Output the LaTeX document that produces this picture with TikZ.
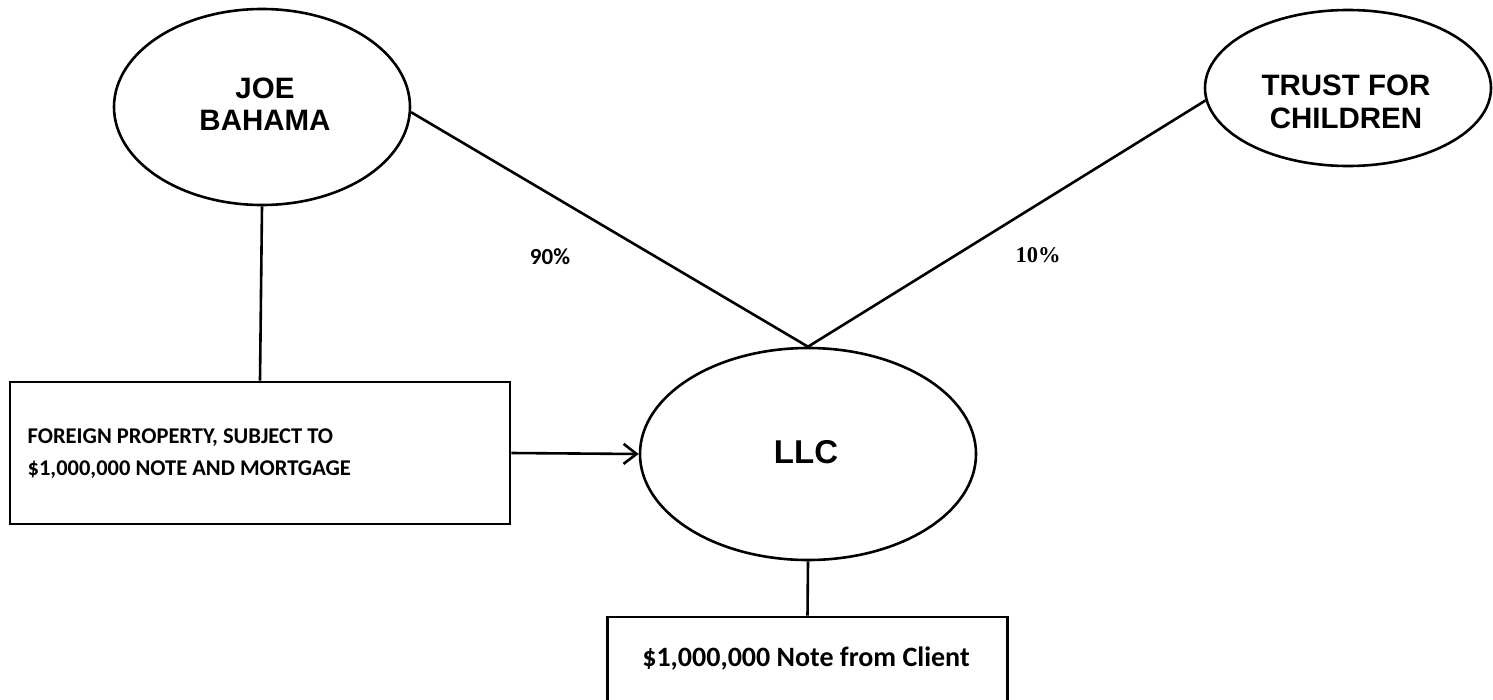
\documentclass[tikz,border=0pt]{standalone}
\usepackage{fontspec}
\setmainfont{Liberation Sans}
\newfontfamily\calib{Carlito}
\newfontfamily\serifpct{Liberation Serif}
\usetikzlibrary{shapes.geometric,arrows.meta}
\begin{document}
\begin{tikzpicture}[x=1pt,y=-1pt,
  every path/.style={line width=2.6pt},
  owner/.style={draw,ellipse,line width=2.6pt,inner sep=0pt},
  ownertext/.style={font=\fontsize{29.5}{32.5}\selectfont\bfseries,align=center},
  box/.style={draw,rectangle,line width=2.6pt,inner sep=0pt},
  boxtext/.style={font=\calib\fontsize{22.5}{32}\selectfont\bfseries,align=left},
  pct/.style={font=\calib\fontsize{23}{25}\selectfont\bfseries}]
\useasboundingbox (0,0) rectangle (1493,699);
% entities
\node[owner,minimum width=296pt,minimum height=196pt] (joe) at (262,107) {};
\node[ownertext] at (265,104) {JOE\\BAHAMA};
\node[owner,minimum width=286pt,minimum height=156pt] (trust) at (1348,88) {};
\node[ownertext] at (1346,102) {TRUST FOR\\CHILDREN};
\node[owner,minimum width=336pt,minimum height=212pt] (llc) at (808,454) {};
\node[font=\fontsize{33}{35}\selectfont\bfseries] at (806,452) {LLC};
% boxes
\node[box,minimum width=500pt,minimum height=142pt] (prop) at (260,453) {};
\node[boxtext,anchor=west] at (23,454) {FOREIGN PROPERTY, SUBJECT TO\\\$1,000,000 NOTE AND MORTGAGE};
\node[box,minimum width=400pt,minimum height=90pt] (note) at (807.5,662) {};
\node[font=\calib\fontsize{28}{30}\selectfont\bfseries] at (806,659) {\$1,000,000 Note from Client};
% percentages
\node[pct] (p90) at (550,257) {90\%};
\node[font=\serifpct\fontsize{22.5}{24}\selectfont\bfseries] (p10) at (1038,255) {10\%};
% connectors
\draw (joe.south) -- (prop.north);
\draw (joe.-2) -- (llc.north);
\draw (trust.185) -- (llc.north);
\draw[-{Straight Barb[length=13pt,width=20pt,line width=2.6pt]}] (prop.east) -- (llc.west);
\draw (llc.south) -- (note.north);
\end{tikzpicture}
\end{document}
